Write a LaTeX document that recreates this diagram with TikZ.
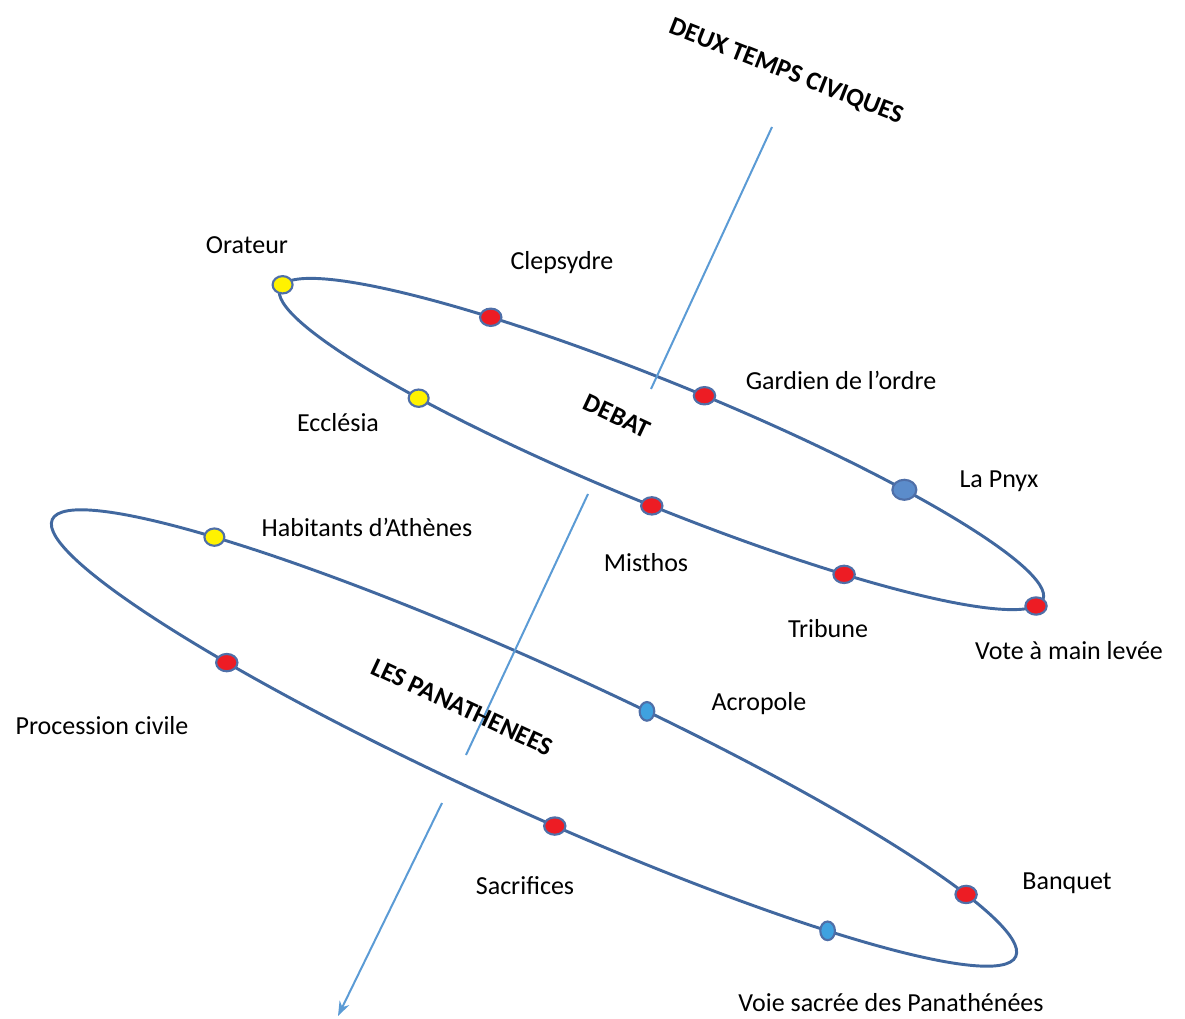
\documentclass[tikz,border=0pt]{standalone}
\usepackage{fontspec}
\setmainfont{Carlito}
\usepackage{tikz}
\usetikzlibrary{arrows.meta,shapes.geometric}
\definecolor{Ring}{HTML}{41689F}
\definecolor{Axis}{HTML}{5B9BD5}
\definecolor{DotRed}{HTML}{ED1C24}
\definecolor{DotYellow}{HTML}{FFF200}
\definecolor{DotBlue}{HTML}{5B8CCB}
\definecolor{DotSky}{HTML}{3FA2E0}
\definecolor{DotEdge}{HTML}{4F6FA8}

\begin{document}
\begin{tikzpicture}[x=0.75pt,y=0.75pt,>={Stealth[length=11pt,width=8pt]},
  every node/.style={font=\fontsize{19.5}{22}\selectfont},
  ring/.style={draw=Ring,line width=2.2pt},
  axis/.style={draw=Axis,line width=1.5pt},
  dot/.style={ellipse,draw=DotEdge,line width=1.6pt,inner sep=0pt,minimum width=16pt,minimum height=13pt},
  reddot/.style={dot,fill=DotRed},
  yellowdot/.style={dot,fill=DotYellow,minimum width=15pt},
  skydot/.style={dot,fill=DotSky,minimum width=11pt,minimum height=14pt},
  title/.style={font=\bfseries\fontsize{19.5}{22}\selectfont}]
\useasboundingbox (0,0) rectangle (1185,-1019);
\begin{scope}[shift={(661.5,-444)},rotate=-22.2]
\draw[ring] (0,0) ellipse [x radius=412,y radius=61];
\node[yellowdot] (orateur) at ({412*cos(176)},{61*sin(176)}) {};
\node[reddot] (clepsydre) at ({412*cos(120)},{61*sin(120)}) {};
\node[reddot] (gardien) at ({412*cos(87)},{61*sin(87)}) {};
\node[dot,fill=DotBlue,minimum width=18pt,minimum height=15pt] (pnyx) at ({412*cos(54)},{61*sin(54)}) {};
\node[reddot] (vote) at ({412*cos(-8)},{61*sin(-8)}) {};
\node[reddot] (tribune) at ({412*cos(-58)},{61*sin(-58)}) {};
\node[reddot] (misthos) at ({412*cos(-88)},{61*sin(-88)}) {};
\node[yellowdot] (ecclesia) at ({412*cos(-126)},{61*sin(-126)}) {};
\end{scope}
\begin{scope}[shift={(534,-738)},rotate=-24.4]
\draw[ring] (0,0) ellipse [x radius=529,y radius=72];
\node[yellowdot] (habitants) at ({529*cos(135)},{72*sin(135)}) {};
\node[skydot] (acropole) at ({529*cos(80)},{72*sin(80)}) {};
\node[reddot] (banquet) at ({529*cos(30)},{72*sin(30)}) {};
\node[skydot] (voie) at ({529*cos(-49)},{72*sin(-49)}) {};
\node[reddot] (sacrifices) at ({529*cos(-84)},{72*sin(-84)}) {};
\node[reddot] (procession) at ({529*cos(-126)},{72*sin(-126)}) {};
\end{scope}
\coordinate (ax1) at (772,-127);
\coordinate (ax2) at (651,-389);
\coordinate (ax3) at (588,-494);
\coordinate (ax4) at (466,-755);
\coordinate (ax5) at (442,-803);
\coordinate (ax6) at (338,-1016);
\draw[axis] (ax1) -- (ax2);
\draw[axis] (ax3) -- (ax4);
\draw[axis,->] (ax5) -- (ax6);
\node[title,rotate=-21.5] (temps) at (786,-72) {DEUX TEMPS CIVIQUES};
\node[title,rotate=-25] (debat) at (617,-416) {DEBAT};
\node[title,rotate=-25] (panath) at (462,-707) {LES PANATHENEES};
\node (lorateur) at (247,-245) {Orateur};
\node (lclepsydre) at (562,-263) {Clepsydre};
\node (lgardien) at (841,-380) {Gardien de l’ordre};
\node (lecclesia) at (338,-423) {Ecclésia};
\node (lpnyx) at (999,-481) {La Pnyx};
\node (lhabitants) at (367,-527) {Habitants d’Athènes};
\node (lmisthos) at (646,-563) {Misthos};
\node (ltribune) at (828,-629) {Tribune};
\node (lvote) at (1069,-651) {Vote à main levée};
\node (lprocession) at (102,-726) {Procession civile};
\node (lacropole) at (759,-704) {Acropole};
\node (lsacrifices) at (525,-886) {Sacrifices};
\node (lbanquet) at (1067,-883) {Banquet};
\node (lvoie) at (891,-1003) {Voie sacrée des Panathénées};
\end{tikzpicture}
\end{document}
